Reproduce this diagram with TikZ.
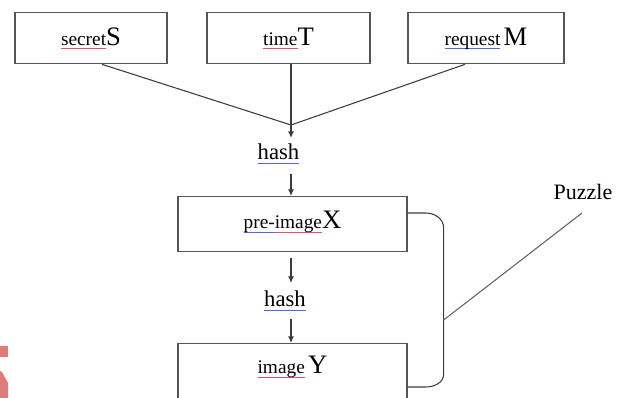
\documentclass[tikz,border=0pt]{standalone}
\usepackage{fontspec}
\setmainfont{Liberation Serif}
\usetikzlibrary{arrows.meta,calc}

\definecolor{inkline}{HTML}{3C3C3C}
\definecolor{boxline}{HTML}{555555}
\definecolor{spellred}{HTML}{E0506A}
\definecolor{gramblue}{HTML}{5565DD}
\definecolor{markred}{HTML}{E07B7B}

% word with a thin coloured rule under it
\newsavebox\wordbox
\newcommand\marked[2]{\sbox\wordbox{#2}\rlap{\color{#1}\rule[-3pt]{\wd\wordbox}{0.6pt}}\usebox\wordbox}
\newcommand\smallword[1]{{\fontsize{14.5}{17}\selectfont #1}}
\newcommand\bigletter[1]{{\fontsize{20}{23}\selectfont #1}}

\begin{document}
\begin{tikzpicture}[x=0.75pt,y=-0.75pt,
  field/.style={draw=boxline, line width=1pt, inner sep=0pt, anchor=north},
  hashlabel/.style={inner sep=0pt, anchor=base, font=\fontsize{17}{20}\selectfont},
  wire/.style={draw=inkline, line width=0.8pt},
  arr/.style={-{Latex[length=5pt,width=4.5pt]}}]

\useasboundingbox (0,0) rectangle (625,398);
\clip (0,0) rectangle (625,398);

% input boxes
\node[field, minimum width=152*0.75pt, text height=32.5*0.75pt, text depth=18.5*0.75pt]
  (secret) at (91,12) {\marked{spellred}{\smallword{secret}}\bigletter{S}};
\node[field, minimum width=163*0.75pt, text height=32.5*0.75pt, text depth=18.5*0.75pt]
  (time) at (288.5,12) {\marked{spellred}{\smallword{time}}\bigletter{T}};
\node[field, minimum width=156*0.75pt, text height=32.5*0.75pt, text depth=18.5*0.75pt]
  (request) at (486,12) {\marked{gramblue}{\smallword{request}} \bigletter{M}};

% puzzle boxes
\node[field, minimum width=229*0.75pt, text height=32*0.75pt, text depth=23*0.75pt]
  (pre) at (292.5,196) {\marked{gramblue}{\smallword{pre-}}\marked{spellred}{\smallword{image}}\bigletter{X}};
\node[field, minimum width=229*0.75pt, text height=30*0.75pt, text depth=28*0.75pt]
  (image) at (292.5,343) {\marked{spellred}{\smallword{image}} \bigletter{Y}};

% hash labels
\node[hashlabel] (hash1) at (278.5,160) {\marked{gramblue}{hash}};
\node[hashlabel] (hash2) at (285,307) {\marked{gramblue}{hash}};

% inputs merge into the first hash
\coordinate (join) at (291,125);
\draw[wire] ($(secret.south)+(11,0)$) -- (join);
\draw[wire] ($(request.south)+(-21,0)$) -- (join);
\draw[wire] (time.south -| join) -- (join);
\draw[wire,arr,shorten >=6*0.75pt] (join) -- (join |- hash1.north);
\draw[wire,arr,shorten <=10*0.75pt] (join |- hash1.south) -- (join |- pre.north);
\draw[wire,arr,shorten <=6*0.75pt,shorten >=8*0.75pt] (join |- pre.south) -- (join |- hash2.north);
\draw[wire,arr,shorten <=8*0.75pt] (join |- hash2.south) -- (join |- image.north);

% bracket grouping X and Y
\coordinate (bt) at ($(pre.north east)+(0,17)$);
\coordinate (bb) at ($(bt)+(0,174)$);
\draw[wire] (bt) -- ++(18,0) to[out=0,in=90] ++(18,15)
  -- ($(bb)+(36,-13)$) to[out=-90,in=0] ($(bb)+(18,0)$) -- (bb);

% callout
\node[inner sep=0pt, anchor=base, font=\fontsize{16.5}{20}\selectfont] (puzzle) at (583,200) {Puzzle};
\coordinate (bmid) at ($(bt)+(36,107)$);
\draw[wire, draw=inkline!80] (bmid) -- ($(puzzle.base)+(-1,13)$);

% red mark at the left edge
\fill[markred] (0,346) rectangle (7.5,357);
\fill[markred] (0,371) -- (2,372) -- (8,383) -- (8,398) -- (0,398) -- cycle;

\end{tikzpicture}
\end{document}
